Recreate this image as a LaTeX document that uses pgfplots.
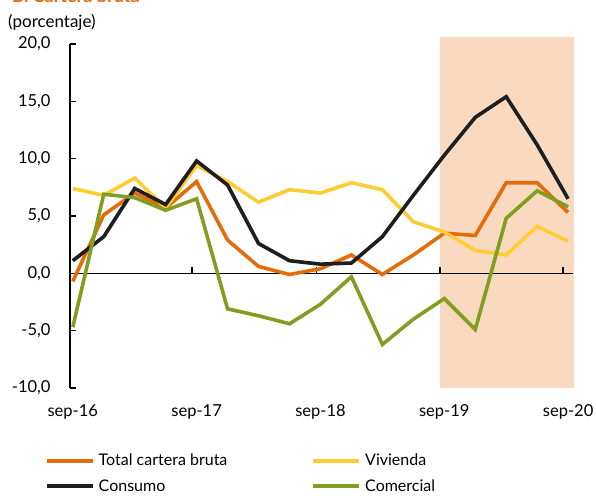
\documentclass[border=0pt]{standalone}
\usepackage{pgfplots}
\pgfplotsset{compat=1.18}
\usepackage{fontspec}
\setmainfont{Lato}
\definecolor{cTot}{HTML}{E46C0A}
\definecolor{cViv}{HTML}{FFCC33}
\definecolor{cCon}{HTML}{1E1E1E}
\definecolor{cCom}{HTML}{819E22}
\definecolor{cShade}{HTML}{F9DAC1}
\begin{document}
\begin{tikzpicture}[x=1pt,y=1pt]
\path[use as bounding box] (0,0) rectangle (596,495);
\node[anchor=base west, font=\fontsize{18}{20}\selectfont\bfseries, text=cTot, inner sep=0pt] at (12,492) {B. Cartera bruta};
\node[anchor=west, font=\fontsize{17}{19}\selectfont, inner sep=0pt] at (8,472.5) {(porcentaje)};
\begin{axis}[
  at={(70pt,107pt)}, anchor=south west,
  scale only axis, width=504pt, height=344pt,
  xmin=-0.09, xmax=16.19, ymin=-10, ymax=20,
  clip=false,
  axis y line*=left, axis x line*=bottom,
  x axis line style={draw=none},
  y axis line style={line width=1.6pt, black},
  xtick={0,4,8,12,16},
  xticklabels={sep-16,sep-17,sep-18,sep-19,sep-20},
  xtick style={draw=none},
  xticklabel style={yshift=-13pt},
  ytick={-10,-5,0,5,10,15,20},
  ytick align=inside,
  major tick length=6pt,
  ytick style={line width=1.6pt, black},
  yticklabel style={xshift=-16pt},
  tick label style={font=\fontsize{16.5}{18}\selectfont},
  /pgf/number format/.cd, fixed, fixed zerofill, precision=1, use comma, assume math mode=true,
  /pgfplots/.cd,
  legend columns=2,
  legend cell align=left,
  legend style={at={(-0.0555,-0.2485)}, anchor=west, draw=none, fill=none,
    nodes={inner sep=0pt, font=\fontsize{16}{18}\selectfont},
    column sep=0pt, row sep=12pt},
  legend image code/.code={\draw[#1, line width=3.5pt] (0pt,0pt) -- (46pt,0pt);},
  every axis plot/.append style={line width=3.6pt, line join=miter, mark=none},
]
\fill[cShade] (axis cs:11.87,-10) rectangle (axis cs:16.19,20.61);
\draw[line width=1.6pt] (axis cs:-0.09,0) -- (axis cs:16.16,0);
\draw[line width=1.6pt] (axis cs:3.86,0) -- ++(0pt,6pt);
\draw[line width=1.6pt] (axis cs:7.87,0) -- ++(0pt,6pt);
\draw[line width=1.6pt] (axis cs:11.87,0) -- ++(0pt,6pt);
\draw[line width=1.6pt] (axis cs:15.84,0) -- ++(0pt,6pt);
\addplot[cTot] coordinates {(0,-0.7)(1,5.1)(2,7.0)(3,5.7)(4,8.0)(5,2.9)(6,0.6)(7,-0.1)(8,0.4)(9,1.6)(10,-0.1)(11,1.6)(12,3.5)(13,3.3)(14,7.9)(15,7.9)(16,5.3)};
\addlegendentry{\makebox[217pt][l]{\hspace{4pt}Total cartera bruta}}
\addplot[cViv] coordinates {(0,7.4)(1,6.8)(2,8.3)(3,5.7)(4,9.4)(5,8.0)(6,6.2)(7,7.3)(8,7.0)(9,7.9)(10,7.3)(11,4.5)(12,3.6)(13,2.0)(14,1.6)(15,4.1)(16,2.8)};
\addlegendentry{\hspace{4pt}Vivienda}
\addplot[cCon] coordinates {(0,1.1)(1,3.2)(2,7.4)(3,6.0)(4,9.8)(5,7.7)(6,2.6)(7,1.1)(8,0.8)(9,0.9)(10,3.2)(11,6.8)(12,10.3)(13,13.6)(14,15.4)(15,11.2)(16,6.5)};
\addlegendentry{\makebox[217pt][l]{\hspace{4pt}Consumo}}
\addplot[cCom] coordinates {(0,-4.7)(1,6.9)(2,6.6)(3,5.5)(4,6.5)(5,-3.1)(6,-3.7)(7,-4.4)(8,-2.7)(9,-0.3)(10,-6.2)(11,-4.0)(12,-2.2)(13,-4.9)(14,4.8)(15,7.2)(16,5.8)};
\addlegendentry{\hspace{4pt}Comercial}
\end{axis}
\end{tikzpicture}
\end{document}
